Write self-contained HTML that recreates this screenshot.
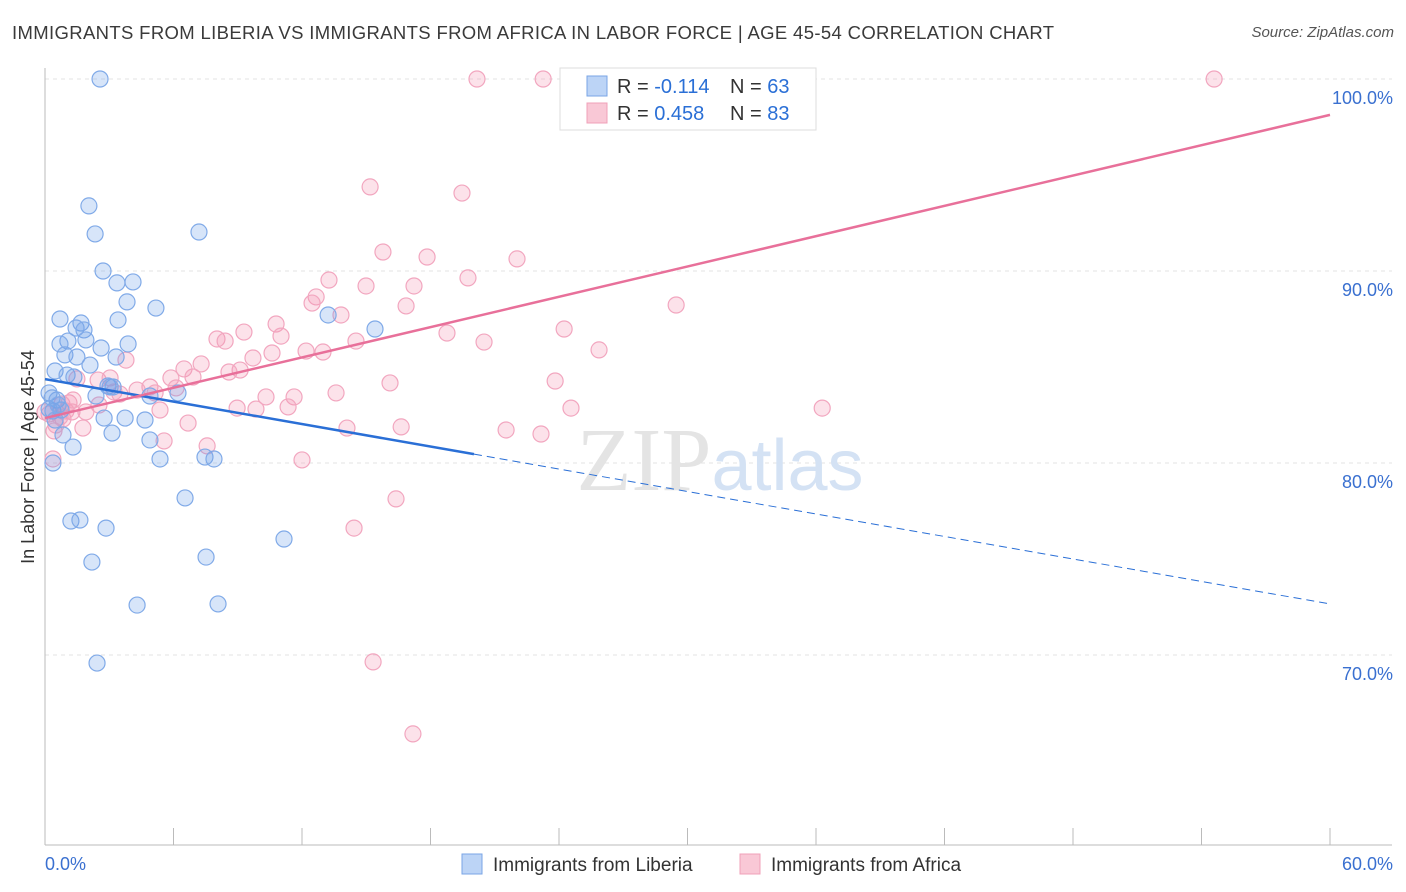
<!DOCTYPE html>
<html><head><meta charset="utf-8">
<style>
body{margin:0;background:#fff;font-family:"Liberation Sans",sans-serif;}
#wrap{position:relative;width:1406px;height:892px;overflow:hidden;}
.title{position:absolute;left:12px;top:22px;font-size:18.5px;color:#3a3a3a;letter-spacing:0.35px;}
.source{position:absolute;right:12px;top:24px;font-size:15px;color:#555;font-style:italic;}
</style></head>
<body>
<div id="wrap">
<div class="title">IMMIGRANTS FROM LIBERIA VS IMMIGRANTS FROM AFRICA IN LABOR FORCE | AGE 45-54 CORRELATION CHART</div>
<div class="source">Source: ZipAtlas.com</div>
<svg id="chart" width="1406" height="892" style="position:absolute;left:0;top:0"></svg>
</div>
<script>
const yTicks=[70,80,90,100];
const yTickLabels=["70.0%","80.0%","90.0%","100.0%"];
const xLabels=["0.0%","60.0%"];
const liberiaX=[2.57,2.05,2.34,7.19,2.71,3.36,4.11,3.83,5.18,0.70,1.68,3.41,1.45,1.82,1.91,1.07,0.70,2.62,3.88,0.93,1.49,2.10,3.32,0.47,1.03,1.35,2.94,3.18,2.38,4.90,6.21,0.19,0.56,0.37,0.75,3.74,2.76,4.67,3.13,0.84,4.90,1.31,5.37,7.47,7.89,0.37,6.54,1.21,1.63,2.85,2.19,7.52,11.16,4.30,8.08,2.43,13.22,15.41,0.19,0.47,0.33,0.61,3.04];
const liberiaY=[100,93.39,91.93,92.03,90.0,89.38,89.43,88.39,88.07,87.5,87.29,87.45,87.03,86.93,86.41,86.35,86.2,85.99,86.2,85.63,85.52,85.1,85.52,84.79,84.58,84.48,84.01,83.96,83.49,83.49,83.65,83.65,83.28,82.71,82.76,82.34,82.34,82.24,81.56,81.46,81.2,80.83,80.21,80.31,80.21,80.0,78.18,76.98,77.03,76.61,74.84,75.1,76.04,72.6,72.66,69.58,87.71,86.98,82.81,82.24,83.39,83.02,83.96];
const africaX=[20.17,23.26,33.02,54.59,15.18,19.47,15.78,17.84,22.04,13.26,19.75,12.66,12.47,14.99,17.23,16.86,13.82,10.79,9.29,8.03,8.41,11.02,18.77,24.24,29.47,14.52,20.5,12.19,12.98,25.87,10.6,9.71,7.29,6.49,3.78,9.11,8.59,5.88,6.91,2.48,3.04,1.49,16.11,23.82,4.9,4.3,5.14,6.12,3.22,3.5,13.59,11.63,10.32,8.97,9.85,11.35,2.52,5.37,1.12,0.79,1.26,1.91,24.56,36.29,0.19,0.84,6.68,14.1,16.63,21.53,23.16,1.77,0.42,5.56,7.57,12.0,0.37,16.39,14.43,15.32,17.18,0.98,0.51,0.7,1.31,0];
const africaY=[100,100,100,100,94.38,94.06,90.99,90.73,90.63,89.53,89.64,88.65,88.33,89.22,89.22,88.18,87.71,87.24,86.82,86.46,86.35,86.61,86.77,86.98,88.23,86.35,86.3,85.83,85.78,85.89,85.73,85.47,85.16,84.9,85.36,84.84,84.74,84.43,84.48,84.32,84.43,84.38,84.17,84.27,83.96,83.8,83.65,83.91,83.7,83.59,83.65,83.44,83.44,82.86,82.81,82.92,83.02,82.76,83.13,83.07,82.66,82.66,82.86,82.86,82.55,82.29,82.08,81.82,81.88,81.72,81.51,81.82,81.67,81.15,80.89,80.16,80.21,78.13,76.61,69.64,65.89,82.71,81.98,82.4,83.28,82.66];
const liberiaTrend=[84.37,72.66];
const liberiaSolidEnd=20.03;
const africaTrend=[82.34,98.13];

const NS="http://www.w3.org/2000/svg";
const svg=document.getElementById('chart');
const X0=45,X1=1330;
const sx=v=>X0+(v/60)*(X1-X0);
const sy=v=>79+(100-v)*19.2;
function el(tag,attrs,parent){const e=document.createElementNS(NS,tag);for(const k in attrs)e.setAttribute(k,attrs[k]);(parent||svg).appendChild(e);return e;}

yTicks.forEach((t,i)=>{
  const g=el('line',{x1:X0,x2:1392,y1:sy(t),y2:sy(t),stroke:'#e3e3e3','stroke-dasharray':'4,4'});
  
  
  const tx=el('text',{x:1393,y:sy(t)+25,'text-anchor':'end','font-size':18,fill:'#3a70d0','font-family':'Liberation Sans'});
  tx.textContent=yTickLabels[i];
  
  
});
const ax=el('line',{x1:X0,x2:1392,y1:845,y2:845,stroke:'#bbb'});


const ay=el('line',{x1:X0,x2:X0,y1:68,y2:845,stroke:'#bbb'});


for(let i=0;i<=10;i++){
  const t=el('line',{x1:sx(i*6),x2:sx(i*6),y1:828,y2:845,stroke:'#bbb'});
  
  
}
[[0,'start',X0],[1,'end',1393]].forEach(([i,a,x])=>{
  const tx=el('text',{x:x,y:870,'text-anchor':a,'font-size':18,fill:'#3a70d0','font-family':'Liberation Sans'});
  tx.textContent=xLabels[i];
  
  
});
const yt=el('text',{x:34,y:457,'text-anchor':'middle','font-size':18,fill:'#333','font-family':'Liberation Sans',transform:'rotate(-90 34 457)'});
yt.textContent='In Labor Force | Age 45-54';



const wm=el('text',{x:720,y:490,'text-anchor':'middle','font-size':90,'font-family':'Liberation Serif',fill:'#e4e4e4'});
wm.innerHTML='ZIP<tspan font-family="Liberation Sans" font-size="72" fill="#d4e2f4">atlas</tspan>';



africaX.forEach((x,i)=>{
  const c=el('circle',{cx:sx(x),cy:sy(africaY[i]),r:8,fill:'rgba(244,150,180,0.28)',stroke:'#f2a6bf','stroke-width':1.2});
  
  
});
liberiaX.forEach((x,i)=>{
  const c=el('circle',{cx:sx(x),cy:sy(liberiaY[i]),r:8,fill:'rgba(110,160,235,0.28)',stroke:'#80aae8','stroke-width':1.2});
  
  
});
const by=x=>liberiaTrend[0]+(liberiaTrend[1]-liberiaTrend[0])*x/60;
const l1=el('line',{x1:sx(0),y1:sy(by(0)),x2:sx(liberiaSolidEnd),y2:sy(by(liberiaSolidEnd)),stroke:'#2a6fd6','stroke-width':2.5});


const l2=el('line',{x1:sx(liberiaSolidEnd),y1:sy(by(liberiaSolidEnd)),x2:sx(60),y2:sy(by(60)),stroke:'#2a6fd6','stroke-width':1,'stroke-dasharray':'8,5'});


const l3=el('line',{x1:sx(0),y1:sy(africaTrend[0]),x2:sx(60),y2:sy(africaTrend[1]),stroke:'#e8709a','stroke-width':2.5});



const lg=el('g',{});


el('rect',{x:560,y:68,width:256,height:62,fill:'#fff',stroke:'#ddd'},lg);
el('rect',{x:587,y:76,width:20,height:20,fill:'#bcd4f6',stroke:'#7aa5e6'},lg);
el('rect',{x:587,y:103,width:20,height:20,fill:'#f9c8d6',stroke:'#f0a0b8'},lg);
[['-0.114','63',93],['0.458','83',120]].forEach(([r,n,y])=>{
  const t=el('text',{x:617,y:y,'font-size':20,fill:'#333','font-family':'Liberation Sans'},lg);
  t.innerHTML='R = <tspan fill="#2a6fd6">'+r+'</tspan>';
  
  
  const t2=el('text',{x:730,y:y,'font-size':20,fill:'#333','font-family':'Liberation Sans'},lg);
  t2.innerHTML='N = <tspan fill="#2a6fd6">'+n+'</tspan>';
  
  
});
[['Immigrants from Liberia',462,'#bcd4f6','#7aa5e6'],['Immigrants from Africa',740,'#f9c8d6','#f0a0b8']].forEach(([lab,x,f,s])=>{
  const g=el('g',{});
  
  
  el('rect',{x:x,y:854,width:20,height:20,fill:f,stroke:s},g);
  const t=el('text',{x:x+31,y:871,'font-size':19,fill:'#333','font-family':'Liberation Sans'},g);
  t.textContent=lab;
});
</script>
</body></html>
